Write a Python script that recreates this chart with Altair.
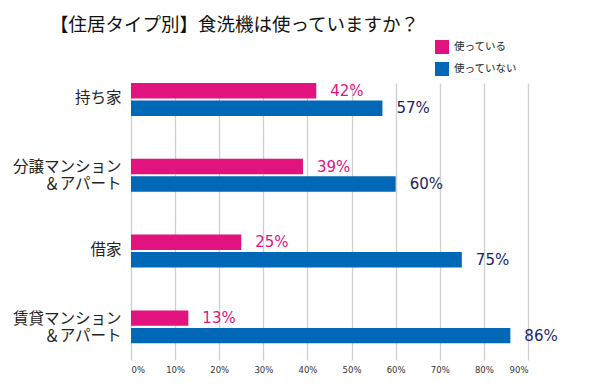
import altair as alt
import pandas as pd

categories = ["持ち家", "分譲マンション\n＆アパート", "借家", "賃貸マンション\n＆アパート"]
series = ["使っている", "使っていない"]
using = [42, 39, 25, 13]
not_using = [57, 60, 75, 86]
x_ticks = [0, 10, 20, 30, 40, 50, 60, 70, 80, 90]

PINK = "#E2127F"
BLUE = "#0068B6"
NAVY = "#1C1F6B"
JP = "Noto Sans CJK JP"

rows = []
for c, u, n in zip(categories, using, not_using):
    rows.append({"category": c, "series": series[0], "value": u, "label": f"{u}%"})
    rows.append({"category": c, "series": series[1], "value": n, "label": f"{n}%"})
df = pd.DataFrame(rows)

y_enc = alt.Y(
    "category:N",
    sort=categories,
    title=None,
    scale=alt.Scale(paddingInner=0.566, paddingOuter=0.11, align=0),
    axis=alt.Axis(
        domain=False, ticks=False, grid=False, labelPadding=10,
        labelFontSize=15.5, labelFont=JP, labelColor="#222222",
        labelLimit=300, labelLineHeight=17,
        labelExpr="split(datum.label, '\\n')",
        labelOffset={"condition": {"test": "indexof(datum.label, '\\n') >= 0", "value": -8}, "value": -1},
    ),
)
yoff = alt.YOffset("series:N", sort=series, scale=alt.Scale(paddingInner=0.12))
x_enc = alt.X(
    "value:Q",
    title=None,
    scale=alt.Scale(domain=[0, 90], nice=False),
    axis=alt.Axis(
        values=x_ticks, grid=True, gridColor="#CFCFCF", gridWidth=1.3,
        domain=False, ticks=False, labelPadding=5, labelFontSize=8.5,
        labelColor="#333333", labelFont="DejaVu Sans",
        labelExpr="datum.value + '%'",
    ),
)

bars = alt.Chart(df).mark_bar().encode(
    x=x_enc,
    y=y_enc,
    yOffset=yoff,
    color=alt.Color(
        "series:N",
        sort=series,
        scale=alt.Scale(domain=series, range=[PINK, BLUE]),
        legend=alt.Legend(
            title=None, orient="none", legendX=304, legendY=-43,
            symbolType="square", symbolSize=196, symbolStrokeWidth=0,
            labelFontSize=10.5, labelFont=JP, labelColor="#222222",
            rowPadding=8, labelOffset=5,
        ),
    ),
)

labels = alt.Chart(df).mark_text(
    align="left", baseline="middle", dx=14, fontSize=15, font="DejaVu Sans"
).encode(
    x="value:Q",
    y=alt.Y("category:N", sort=categories),
    yOffset=alt.YOffset("series:N", sort=series),
    text="label:N",
    color=alt.condition(alt.datum.series == series[0], alt.value(PINK), alt.value(NAVY)),
)

chart = (
    alt.layer(bars, labels)
    .properties(
        width=397,
        height=277,
        autosize=alt.AutoSizeParams(type="none"),
        padding={"left": 123, "right": 79, "top": 75, "bottom": 20},
        title=alt.TitleParams(
            "【住居タイプ別】食洗機は使っていますか？",
            anchor="start", frame="group", dx=-81, offset=6,
            fontSize=18.5, font=JP, fontWeight="normal", color="#111111",
        ),
    )
    .configure_view(stroke=None)
)

chart.save("out.html", embed_options={"renderer": "svg", "actions": False})
